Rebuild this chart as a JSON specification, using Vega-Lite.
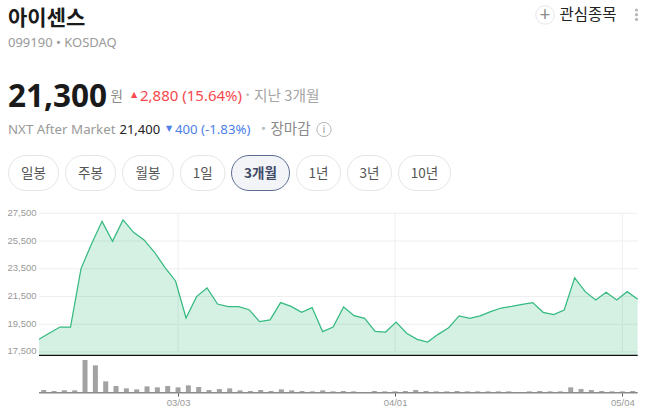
{"$schema":"https://vega.github.io/schema/vega-lite/v6.json","width":659,"height":414,"padding":0,"autosize":"none","background":"white","config":{"view":{"stroke":null},"text":{"font":"Noto Sans CJK KR"}},
"datasets":{"stock":[
{"session":0,"date":"02/06","close":18420,"volume":400},{"session":1,"date":"02/09","close":18870,"volume":250},{"session":2,"date":"02/10","close":19300,"volume":350},{"session":3,"date":"02/11","close":19300,"volume":350},{"session":4,"date":"02/12","close":23510,"volume":4900},{"session":5,"date":"02/13","close":25290,"volume":4100},{"session":6,"date":"02/19","close":26920,"volume":1700},{"session":7,"date":"02/20","close":25480,"volume":1000},{"session":8,"date":"02/23","close":27020,"volume":650},{"session":9,"date":"02/24","close":26130,"volume":500},
{"session":10,"date":"02/25","close":25580,"volume":950},{"session":11,"date":"02/26","close":24690,"volume":800},{"session":12,"date":"02/27","close":23580,"volume":1000},{"session":13,"date":"03/03","close":22620,"volume":800},{"session":14,"date":"03/04","close":19950,"volume":1100},{"session":15,"date":"03/05","close":21490,"volume":850},{"session":16,"date":"03/06","close":22120,"volume":400},{"session":17,"date":"03/09","close":20960,"volume":550},{"session":18,"date":"03/10","close":20770,"volume":650},{"session":19,"date":"03/11","close":20770,"volume":350},
{"session":20,"date":"03/12","close":20550,"volume":250},{"session":21,"date":"03/13","close":19690,"volume":400},{"session":22,"date":"03/16","close":19810,"volume":250},{"session":23,"date":"03/17","close":21060,"volume":500},{"session":24,"date":"03/18","close":20790,"volume":350},{"session":25,"date":"03/19","close":20360,"volume":250},{"session":26,"date":"03/20","close":20700,"volume":200},{"session":27,"date":"03/23","close":18970,"volume":350},{"session":28,"date":"03/24","close":19300,"volume":200},{"session":29,"date":"03/25","close":20750,"volume":250},
{"session":30,"date":"03/26","close":20120,"volume":200},{"session":31,"date":"03/27","close":19930,"volume":100},{"session":32,"date":"03/30","close":18990,"volume":250},{"session":33,"date":"03/31","close":18940,"volume":200},{"session":34,"date":"04/01","close":19660,"volume":200},{"session":35,"date":"04/02","close":18850,"volume":250},{"session":36,"date":"04/03","close":18410,"volume":400},{"session":37,"date":"04/06","close":18220,"volume":250},{"session":38,"date":"04/07","close":18770,"volume":200},{"session":39,"date":"04/08","close":19250,"volume":200},
{"session":40,"date":"04/09","close":20100,"volume":250},{"session":41,"date":"04/10","close":19930,"volume":200},{"session":42,"date":"04/13","close":20100,"volume":200},{"session":43,"date":"04/14","close":20410,"volume":200},{"session":44,"date":"04/15","close":20670,"volume":200},{"session":45,"date":"04/16","close":20790,"volume":200},{"session":46,"date":"04/17","close":20940,"volume":100},{"session":47,"date":"04/20","close":21060,"volume":200},{"session":48,"date":"04/21","close":20360,"volume":250},{"session":49,"date":"04/22","close":20190,"volume":200},
{"session":50,"date":"04/23","close":20530,"volume":200},{"session":51,"date":"04/24","close":22840,"volume":800},{"session":52,"date":"04/27","close":21850,"volume":550},{"session":53,"date":"04/28","close":21250,"volume":400},{"session":54,"date":"04/29","close":21800,"volume":250},{"session":55,"date":"04/30","close":21250,"volume":200},{"session":56,"date":"05/04","close":21850,"volume":200},{"session":57,"date":"05/06","close":21300,"volume":250}
]},
"resolve":{"scale":{"x":"independent","y":"independent"},"axis":{"x":"independent","y":"independent"}},
"layer":[
{"data":{"values":[{"price":17500},{"price":19500},{"price":21500},{"price":23500},{"price":25500},{"price":27500}]},"mark":{"type":"rule","color":"#eeeeee","strokeWidth":1},"encoding":{"x":{"datum":0,"type":"quantitative","scale":{"domain":[0,57],"range":[39,637.7]},"axis":null},"x2":{"datum":57},"y":{"field":"price","type":"quantitative","scale":{"domain":[17260,27500],"range":[355.3,213.3]},"axis":null}}},
{"data":{"values":[{"session":13},{"session":34},{"session":56}]},"mark":{"type":"rule","color":"#eeeeee","strokeWidth":1},"encoding":{"x":{"field":"session","type":"quantitative","scale":{"domain":[0,57],"range":[43.7,632.7]},"axis":null},"y":{"datum":17500,"type":"quantitative","scale":{"domain":[17260,27500],"range":[355.3,213.3]},"axis":null},"y2":{"datum":27500}}},
{"data":{"name":"stock"},"mark":{"type":"area","color":"#2fb87a","opacity":0.2},"encoding":{"x":{"field":"session","type":"quantitative","scale":{"domain":[0,57],"range":[39,637.7]},"axis":null},"y":{"field":"close","type":"quantitative","stack":null,"scale":{"domain":[17260,27500],"range":[355.3,213.3]},"axis":{"orient":"left","offset":-36,"values":[17500,19500,21500,23500,25500,27500],"format":",.0f","title":null,"domain":false,"ticks":false,"grid":false,"labelColor":"#999999","labelFontSize":9.5,"labelFont":"Liberation Sans","labelPadding":0,"labelOffset":-1,"labelOverlap":false,"labelFlush":false,"labelBound":false}},"y2":{"datum":17260}}},
{"data":{"name":"stock"},"mark":{"type":"line","color":"#35ba80","strokeWidth":1.25},"encoding":{"x":{"field":"session","type":"quantitative","scale":{"domain":[0,57],"range":[39,637.7]},"axis":null},"y":{"field":"close","type":"quantitative","scale":{"domain":[17260,27500],"range":[355.3,213.3]},"axis":null}}},
{"data":{"values":[{"base":17260}]},"mark":{"type":"rule","color":"#111111","strokeWidth":1.3},"encoding":{"x":{"datum":0,"type":"quantitative","scale":{"domain":[0,57],"range":[39,637.7]},"axis":null},"x2":{"datum":57},"y":{"field":"base","type":"quantitative","scale":{"domain":[17260,27500],"range":[355.3,213.3]},"axis":null}}},
{"data":{"name":"stock"},"mark":{"type":"bar","color":"#a2a2a2","width":5},"encoding":{"x":{"field":"session","type":"quantitative","scale":{"domain":[0,57],"range":[43.7,632.7],"padding":0},"axis":{"orient":"bottom","offset":-21,"values":[13,34,56],"labelExpr":"datum.value==13?'03/03':datum.value==34?'04/01':'05/04'","title":null,"domain":false,"grid":false,"tickColor":"#555555","tickSize":3,"tickWidth":1,"zindex":1,"labelAlign":"center","labelColor":"#999999","labelFontSize":9.5,"labelFont":"Liberation Sans","labelPadding":1,"labelOverlap":false,"labelFlush":false,"labelBound":false}},"y":{"field":"volume","type":"quantitative","scale":{"domain":[0,4900],"range":[392.7,360]},"axis":null}}},
{"data":{"values":[{"base":0}]},"mark":{"type":"rule","color":"#8a8a8a","strokeWidth":1.5},"encoding":{"x":{"datum":0,"type":"quantitative","scale":{"domain":[0,57],"range":[39,637.7]},"axis":null},"x2":{"datum":57},"y":{"field":"base","type":"quantitative","scale":{"domain":[0,4900],"range":[392.7,360]},"axis":null}}},

{"data":{"values":[{}]},"mark":{"type":"rule","x":8,"x2":638,"y":63.5,"y2":63.5,"color":"#eeeeee"},"encoding":{}},
{"data":{"values":[{}]},"mark":{"type":"rule","x":658.5,"x2":658.5,"y":0,"y2":414,"color":"#eeeeee"},"encoding":{}},
{"data":{"values":[{"label":"아이센스"}]},"mark":{"type":"text","x":8,"y":25,"align":"left","baseline":"alphabetic","fontSize":21,"fontWeight":"bold","color":"#1a1a1a"},"encoding":{"text":{"field":"label"}}},
{"data":{"values":[{"label":"099190 • KOSDAQ"}]},"mark":{"type":"text","x":8,"y":47,"align":"left","baseline":"alphabetic","fontSize":13,"font":"Noto Sans","color":"#9a9a9a"},"encoding":{"text":{"field":"label"}}},
{"data":{"values":[{"label":"21,300"}]},"mark":{"type":"text","x":8,"y":107,"align":"left","baseline":"alphabetic","fontSize":31.5,"fontWeight":"bold","font":"Noto Sans","color":"#1a1a1a"},"encoding":{"text":{"field":"label"}}},
{"data":{"values":[{"label":"원"}]},"mark":{"type":"text","x":110.5,"y":101,"align":"left","baseline":"alphabetic","fontSize":13.5,"color":"#8a8a8a"},"encoding":{"text":{"field":"label"}}},
{"data":{"values":[{"label":"▲"}]},"mark":{"type":"text","x":134,"y":95,"align":"center","baseline":"middle","fontSize":8,"font":"DejaVu Sans","color":"#f5484f"},"encoding":{"text":{"field":"label"}}},
{"data":{"values":[{"label":"2,880 (15.64%)"}]},"mark":{"type":"text","x":140,"y":101,"align":"left","baseline":"alphabetic","fontSize":15,"font":"Noto Sans","color":"#f5484f"},"encoding":{"text":{"field":"label"}}},
{"data":{"values":[{"label":"•"}]},"mark":{"type":"text","x":247.5,"y":96,"align":"center","baseline":"middle","fontSize":11,"font":"Noto Sans","color":"#bbbbbb"},"encoding":{"text":{"field":"label"}}},
{"data":{"values":[{"label":"지난 3개월"}]},"mark":{"type":"text","x":254,"y":101,"align":"left","baseline":"alphabetic","fontSize":14.7,"color":"#a5a5a5"},"encoding":{"text":{"field":"label"}}},
{"data":{"values":[{"label":"NXT After Market"}]},"mark":{"type":"text","x":8,"y":134,"align":"left","baseline":"alphabetic","fontSize":13.3,"font":"Noto Sans","color":"#9a9a9a"},"encoding":{"text":{"field":"label"}}},
{"data":{"values":[{"label":"21,400"}]},"mark":{"type":"text","x":119.5,"y":134,"align":"left","baseline":"alphabetic","fontSize":13,"font":"Noto Sans","color":"#222222"},"encoding":{"text":{"field":"label"}}},
{"data":{"values":[{"label":"▼"}]},"mark":{"type":"text","x":169,"y":129,"align":"center","baseline":"middle","fontSize":8,"font":"DejaVu Sans","color":"#4d7fe8"},"encoding":{"text":{"field":"label"}}},
{"data":{"values":[{"label":"400 (-1.83%)"}]},"mark":{"type":"text","x":175,"y":134,"align":"left","baseline":"alphabetic","fontSize":13.2,"font":"Noto Sans","color":"#4d7fe8"},"encoding":{"text":{"field":"label"}}},
{"data":{"values":[{"label":"•"}]},"mark":{"type":"text","x":263.5,"y":129,"align":"center","baseline":"middle","fontSize":13,"font":"Noto Sans","color":"#bbbbbb"},"encoding":{"text":{"field":"label"}}},
{"data":{"values":[{"label":"장마감"}]},"mark":{"type":"text","x":270.5,"y":134,"align":"left","baseline":"alphabetic","fontSize":14.5,"color":"#8a8a8a"},"encoding":{"text":{"field":"label"}}},
{"data":{"values":[{}]},"mark":{"type":"point","x":324,"y":129.5,"size":200,"shape":"circle","filled":false,"color":"#9a9a9a","strokeWidth":1},"encoding":{}},
{"data":{"values":[{"label":"i"}]},"mark":{"type":"text","x":324,"y":129.5,"align":"center","baseline":"middle","fontSize":11,"font":"Noto Sans","color":"#9a9a9a"},"encoding":{"text":{"field":"label"}}},
{"data":{"values":[{}]},"mark":{"type":"point","x":545,"y":15,"size":340,"shape":"circle","filled":false,"color":"#dddddd","strokeWidth":1},"encoding":{}},
{"data":{"values":[{"label":"+"}]},"mark":{"type":"text","x":545,"y":14.5,"align":"center","baseline":"middle","fontSize":19,"font":"Noto Sans","color":"#8a8a8a"},"encoding":{"text":{"field":"label"}}},
{"data":{"values":[{"label":"관심종목"}]},"mark":{"type":"text","x":559.5,"y":20,"align":"left","baseline":"alphabetic","fontSize":15.5,"color":"#222222"},"encoding":{"text":{"field":"label"}}},
{"data":{"values":[{}]},"mark":{"type":"circle","x":636.5,"y":10,"size":10,"color":"#999999"},"encoding":{}},
{"data":{"values":[{}]},"mark":{"type":"circle","x":636.5,"y":14.7,"size":10,"color":"#999999"},"encoding":{}},
{"data":{"values":[{}]},"mark":{"type":"circle","x":636.5,"y":19.4,"size":10,"color":"#999999"},"encoding":{}},

{"data":{"values":[{}]},"mark":{"type":"rect","x":8.5,"x2":58.5,"y":155.5,"y2":190.5,"cornerRadius":17.5,"fill":"white","stroke":"#e5e5e5"},"encoding":{}},
{"data":{"values":[{}]},"mark":{"type":"rect","x":65.5,"x2":115.5,"y":155.5,"y2":190.5,"cornerRadius":17.5,"fill":"white","stroke":"#e5e5e5"},"encoding":{}},
{"data":{"values":[{}]},"mark":{"type":"rect","x":122.5,"x2":173.5,"y":155.5,"y2":190.5,"cornerRadius":17.5,"fill":"white","stroke":"#e5e5e5"},"encoding":{}},
{"data":{"values":[{}]},"mark":{"type":"rect","x":180.5,"x2":225,"y":155.5,"y2":190.5,"cornerRadius":17.5,"fill":"white","stroke":"#e5e5e5"},"encoding":{}},
{"data":{"values":[{}]},"mark":{"type":"rect","x":231.5,"x2":289.5,"y":155.5,"y2":190.5,"cornerRadius":17.5,"fill":"#f2f4f8","stroke":"#5c6b92"},"encoding":{}},
{"data":{"values":[{}]},"mark":{"type":"rect","x":296.5,"x2":340.5,"y":155.5,"y2":190.5,"cornerRadius":17.5,"fill":"white","stroke":"#e5e5e5"},"encoding":{}},
{"data":{"values":[{}]},"mark":{"type":"rect","x":347.5,"x2":391.5,"y":155.5,"y2":190.5,"cornerRadius":17.5,"fill":"white","stroke":"#e5e5e5"},"encoding":{}},
{"data":{"values":[{}]},"mark":{"type":"rect","x":398.5,"x2":450.5,"y":155.5,"y2":190.5,"cornerRadius":17.5,"fill":"white","stroke":"#e5e5e5"},"encoding":{}},
{"data":{"values":[{"label":"일봉"}]},"mark":{"type":"text","x":33.5,"y":178,"align":"center","baseline":"alphabetic","fontSize":13.5,"color":"#555555"},"encoding":{"text":{"field":"label"}}},
{"data":{"values":[{"label":"주봉"}]},"mark":{"type":"text","x":90.5,"y":178,"align":"center","baseline":"alphabetic","fontSize":13.5,"color":"#555555"},"encoding":{"text":{"field":"label"}}},
{"data":{"values":[{"label":"월봉"}]},"mark":{"type":"text","x":148,"y":178,"align":"center","baseline":"alphabetic","fontSize":13.5,"color":"#555555"},"encoding":{"text":{"field":"label"}}},
{"data":{"values":[{"label":"1일"}]},"mark":{"type":"text","x":202.7,"y":178,"align":"center","baseline":"alphabetic","fontSize":13.5,"color":"#555555"},"encoding":{"text":{"field":"label"}}},
{"data":{"values":[{"label":"3개월"}]},"mark":{"type":"text","x":260.5,"y":178,"align":"center","baseline":"alphabetic","fontSize":13.5,"fontWeight":"bold","color":"#3f4a66"},"encoding":{"text":{"field":"label"}}},
{"data":{"values":[{"label":"1년"}]},"mark":{"type":"text","x":318.5,"y":178,"align":"center","baseline":"alphabetic","fontSize":13.5,"color":"#555555"},"encoding":{"text":{"field":"label"}}},
{"data":{"values":[{"label":"3년"}]},"mark":{"type":"text","x":369.5,"y":178,"align":"center","baseline":"alphabetic","fontSize":13.5,"color":"#555555"},"encoding":{"text":{"field":"label"}}},
{"data":{"values":[{"label":"10년"}]},"mark":{"type":"text","x":424.5,"y":178,"align":"center","baseline":"alphabetic","fontSize":13.5,"color":"#555555"},"encoding":{"text":{"field":"label"}}}
]}
